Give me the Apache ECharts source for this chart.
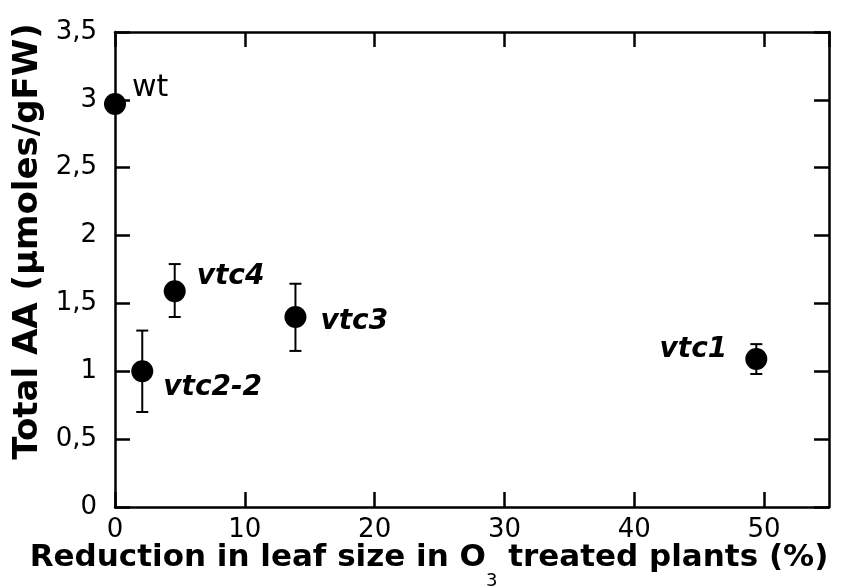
<!DOCTYPE html>
<html><head><meta charset="utf-8">
<script src="https://cdn.jsdelivr.net/npm/echarts@6/dist/echarts.min.js"></script>
<style>html,body{margin:0;padding:0;background:#fff}#c{width:863px;height:588px}</style>
</head><body><div id="c"></div>
<script>
// ---- data ----
var genotypes = ['wt', 'vtc2-2', 'vtc4', 'vtc3', 'vtc1'];
var leafReduction = [0, 2.1, 4.6, 13.9, 49.4];       // % reduction in leaf size
var totalAA = [2.97, 1.0, 1.59, 1.40, 1.09];          // µmoles/gFW
var errLow = [2.97, 0.70, 1.40, 1.15, 0.98];
var errHigh = [2.97, 1.30, 1.79, 1.645, 1.20];
var xTicks = [0, 10, 20, 30, 40, 50];
var yTicks = [0, 0.5, 1, 1.5, 2, 2.5, 3, 3.5];

// ---- label placement (style, not data) ----
var labelStyle = {
  'wt':     {pos: [17, -16], align: 'left', bold: false},
  'vtc2-2': {pos: [21, 16], align: 'left', bold: true},
  'vtc4':   {pos: [22, -14], align: 'left', bold: true},
  'vtc3':   {pos: [25, 5], align: 'left', bold: true},
  'vtc1':   {pos: [-29, -9], align: 'right', bold: true}
};

var FONT = 'DejaVu Sans';
var R = 11;
var points = genotypes.map(function (g, i) {
  var s = labelStyle[g];
  return {
    value: [leafReduction[i], totalAA[i]],
    label: {
      show: true, formatter: g,
      position: [R + s.pos[0], R + s.pos[1]],
      align: s.align, verticalAlign: 'middle',
      fontFamily: FONT, fontSize: s.bold ? 28 : 30,
      fontWeight: s.bold ? 'bold' : 'normal',
      fontStyle: s.bold ? 'italic' : 'normal',
      color: '#000', opacity: 1
    }
  };
});
var errData = genotypes.map(function (g, i) {
  return [leafReduction[i], errLow[i], errHigh[i]];
});

var tickFmt = function (v) { return String(v).replace('.', ','); };
var axisCommon = {
  nameMoveOverlap: false,
  axisLine: {show: true, onZero: false, lineStyle: {color: '#000', width: 2.5}},
  axisTick: {show: true, inside: true, length: 15, lineStyle: {color: '#000', width: 2.5}},
  splitLine: {show: false}
};

var chart = echarts.init(document.getElementById('c'));
chart.setOption({
  animation: false,
  grid: {left: 115, right: 34, top: 32, bottom: 81, containLabel: false, outerBoundsMode: 'none'},
  xAxis: [
    Object.assign({
      type: 'value', min: 0, max: 55, interval: 10, position: 'bottom',
      axisLabel: {show: true, showMaxLabel: false, margin: 10, fontFamily: FONT, fontSize: 26, color: '#000'},
      name: 'Reduction in leaf size in O{sub|3} treated plants (%)',
      nameLocation: 'middle', nameGap: 19,
      nameTextStyle: {
        fontFamily: FONT, fontSize: 31, fontWeight: 'bold', color: '#000',
        lineHeight: 64,
        padding: [0, 86, 0, 0],
        rich: {sub: {fontFamily: FONT, fontSize: 18, fontWeight: 'normal', color: '#000', lineHeight: 18, verticalAlign: 'bottom'}}
      }
    }, axisCommon),
    Object.assign({
      type: 'value', min: 0, max: 55, interval: 10, position: 'top',
      axisLabel: {show: false}
    }, axisCommon)
  ],
  yAxis: [
    Object.assign({
      type: 'value', min: 0, max: 3.5, interval: 0.5, position: 'left',
      axisLabel: {show: true, margin: 18, fontFamily: FONT, fontSize: 26, color: '#000', formatter: tickFmt},
      name: 'Total AA (µmoles/gFW)',
      nameLocation: 'middle', nameGap: 70, nameRotate: 90,
      nameTextStyle: {fontFamily: FONT, fontSize: 34, fontWeight: 'bold', color: '#000', padding: [0, 0, 0, 56]}
    }, axisCommon),
    Object.assign({
      type: 'value', min: 0, max: 3.5, interval: 0.5, position: 'right',
      axisLabel: {show: false}
    }, axisCommon)
  ],
  series: [
    {
      type: 'custom', clip: false, z: 3,
      data: errData,
      renderItem: function (params, api) {
        var x = api.value(0), lo = api.value(1), hi = api.value(2);
        if (hi - lo <= 0) return null;
        var pLo = api.coord([x, lo]), pHi = api.coord([x, hi]);
        var w = 6, st = {stroke: '#000', lineWidth: 2};
        return {type: 'group', children: [
          {type: 'line', shape: {x1: pLo[0], y1: pLo[1], x2: pHi[0], y2: pHi[1]}, style: st},
          {type: 'line', shape: {x1: pLo[0] - w, y1: pLo[1], x2: pLo[0] + w, y2: pLo[1]}, style: st},
          {type: 'line', shape: {x1: pHi[0] - w, y1: pHi[1], x2: pHi[0] + w, y2: pHi[1]}, style: st}
        ]};
      }
    },
    {
      type: 'scatter', clip: false, z: 4,
      symbol: 'circle', symbolSize: 22,
      itemStyle: {color: '#000', opacity: 1},
      data: points
    }
  ]
});
</script></body></html>
